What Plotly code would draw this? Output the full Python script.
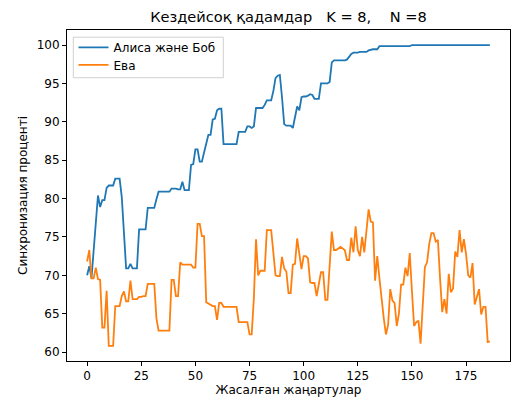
import plotly.graph_objects as go

# Data
steps = list(range(187))

alice_bob = [
    70.0, 71.2, 69.6, 73.3, 77.5, 80.4, 78.9, 79.8, 79.8, 81.4,
    81.7, 81.7, 81.7, 82.6, 82.6, 82.6, 80.2, 75.5, 70.9, 70.9,
    71.5, 70.9, 70.9, 70.9, 76.0, 76.0, 76.0, 76.0, 78.8, 78.8,
    78.8, 78.8, 79.9, 80.9, 80.9, 80.9, 80.9, 80.9, 80.9, 81.3,
    81.3, 81.3, 81.2, 81.2, 82.2, 81.1, 81.1, 81.1, 84.4, 84.5,
    86.4, 86.4, 84.8, 84.8, 86.0, 87.1, 88.3, 88.3, 90.3, 90.4,
    91.5, 91.7, 91.7, 87.1, 87.1, 87.1, 87.1, 87.1, 87.1, 87.1,
    88.7, 88.7, 88.7, 88.7, 89.4, 89.4, 89.2, 89.4, 91.8, 91.8,
    91.8, 91.8, 92.2, 92.8, 92.8, 92.8, 94.0, 95.7, 96.0, 96.1,
    93.2, 89.7, 89.5, 89.5, 89.5, 89.2, 90.8, 92.0, 91.5, 93.2,
    93.3, 93.3, 93.4, 93.6, 93.5, 93.0, 93.0, 93.0, 95.0, 95.0,
    95.0, 95.0, 95.2, 97.75, 98.0, 98.0, 98.0, 98.0, 98.0, 98.0,
    98.1, 98.5, 98.85, 99.0, 99.0, 99.0, 99.1, 99.1, 99.1, 99.1,
    99.3, 99.4, 99.45, 99.45, 99.45, 99.85, 99.85, 99.85, 99.85, 99.85,
    99.85, 99.85, 99.85, 99.85, 99.85, 99.85, 99.85, 99.85, 99.85, 99.85,
    100.0, 100.0, 100.0, 100.0, 100.0, 100.0, 100.0, 100.0, 100.0, 100.0,
    100.0, 100.0, 100.0, 100.0, 100.0, 100.0, 100.0, 100.0, 100.0, 100.0,
    100.0, 100.0, 100.0, 100.0, 100.0, 100.0, 100.0, 100.0, 100.0, 100.0,
    100.0, 100.0, 100.0, 100.0, 100.0, 100.0, 100.0,
]

eva = [
    71.8, 73.3, 69.6, 69.6, 71.0, 69.5, 69.4, 63.2, 63.2, 68.0,
    60.8, 60.8, 60.8, 66.0, 66.0, 66.0, 67.3, 67.9, 66.6, 66.6,
    69.3, 66.9, 66.9, 66.9, 67.2, 67.2, 67.3, 67.3, 68.9, 68.9,
    68.9, 68.9, 64.4, 62.8, 62.8, 62.8, 62.8, 62.8, 62.8, 69.4,
    69.4, 67.3, 67.3, 71.7, 71.4, 71.4, 71.4, 71.4, 71.4, 71.0,
    71.0, 76.7, 76.7, 75.1, 75.1, 66.5, 66.3, 66.2, 66.0, 66.0,
    64.2, 66.4, 66.4, 65.9, 65.9, 65.9, 65.9, 65.9, 65.9, 65.9,
    63.9, 63.9, 63.9, 63.9, 63.9, 62.3, 62.3, 67.0, 74.7, 70.0,
    70.6, 70.6, 70.6, 75.9, 75.9, 75.9, 73.0, 70.0, 69.9, 69.9,
    72.4, 70.9, 70.5, 67.7, 67.7, 71.4, 71.5, 74.8, 72.8, 70.8,
    72.5, 72.5, 72.2, 69.1, 69.0, 69.0, 67.3, 68.8, 70.4, 70.4,
    66.8, 66.8, 71.5, 75.7, 73.3, 73.3, 73.5, 73.7, 73.5, 73.3,
    72.0, 72.0, 74.9, 73.0, 76.4, 73.3, 72.5, 75.0, 73.0, 75.8,
    78.6, 77.0, 76.9, 69.3, 72.5, 69.6, 66.5, 64.4, 62.3, 63.5,
    68.2, 66.7, 66.4, 63.4, 65.0, 68.8, 68.8, 71.0, 69.9, 72.9,
    68.0, 63.4, 63.9, 64.1, 61.1, 66.0, 71.1, 71.7, 74.1, 75.5,
    75.5, 74.4, 74.6, 69.6, 65.2, 66.9, 65.0, 70.2, 67.8, 68.3,
    73.1, 72.4, 75.9, 73.0, 74.7, 72.8, 70.0, 69.7, 71.6, 66.2,
    67.4, 68.2, 64.9, 65.9, 65.9, 61.3, 61.4,
]

series_names = ["Алиса және Боб", "Ева"]
title_text = "Кездейсоқ қадамдар   K = 8,    N =8"
x_label = "Жасалған жаңартулар"
y_label = "Синхронизация проценті"
x_ticks = [0, 25, 50, 75, 100, 125, 150, 175]
y_ticks = [60, 65, 70, 75, 80, 85, 90, 95, 100]

FONT = "DejaVu Sans"
FS = 12

fig = go.Figure()
fig.add_trace(go.Scatter(x=steps, y=alice_bob, mode="lines", name=series_names[0],
                         line=dict(color="#1f77b4", width=1.8), legend="legend"))
fig.add_trace(go.Scatter(x=steps, y=eva, mode="lines", name=series_names[1],
                         line=dict(color="#ff7f0e", width=1.8), legend="legend2"))

xmin, xmax = min(steps), max(steps)
xpad = 0.05 * (xmax - xmin)
allv = alice_bob + eva
ymin, ymax = min(allv), max(allv)
ypad = 0.05 * (ymax - ymin)

axis_common = dict(
    showgrid=False, zeroline=False, showline=True, linecolor="black", linewidth=1,
    mirror=True, ticks="outside", ticklen=4, tickwidth=1, tickcolor="black",
    tickfont=dict(family=FONT, size=FS, color="black"),
)

# plot-area geometry (px) used to place the legend frame
L, R, T, B = 67, 510, 29.5, 361
PW, PH = R - L, B - T
def px_x(p):
    return (p - L) / PW
def px_y(p):
    return (B - p) / PH

leg_common = dict(xanchor="left", yanchor="middle", bgcolor="rgba(0,0,0,0)",
                  borderwidth=0, font=dict(family=FONT, size=FS, color="black"))

fig.update_layout(
    width=511, height=398,
    margin=dict(l=67, r=1, t=30, b=37),
    paper_bgcolor="white", plot_bgcolor="white",
    font=dict(family=FONT, size=FS, color="black"),
    title=dict(text=title_text, x=0.5, xref="paper", xanchor="center",
               y=1 - 17 / 398, yref="container", yanchor="middle",
               font=dict(family=FONT, size=14.6, color="black")),
    xaxis=dict(range=[xmin - xpad, xmax + xpad], tickvals=x_ticks,
               title=dict(text=x_label, font=dict(family=FONT, size=FS, color="black"), standoff=2),
               **axis_common),
    yaxis=dict(range=[ymin - ypad, ymax + ypad], tickvals=y_ticks,
               title=dict(text=y_label, font=dict(family=FONT, size=FS, color="black"), standoff=6),
               **axis_common),
    legend=dict(x=px_x(73.5), y=px_y(47), **leg_common),
    legend2=dict(x=px_x(73.5), y=px_y(64.5), **leg_common),
    showlegend=True,
    shapes=[dict(type="rect", xref="paper", yref="paper",
                 x0=px_x(73.3), x1=px_x(223.3), y0=px_y(77.3), y1=px_y(36.7),
                 line=dict(color="#d0d0d0", width=1), fillcolor="rgba(255,255,255,0.8)",
                 layer="above")],
)

fig.write_html("out.html")
